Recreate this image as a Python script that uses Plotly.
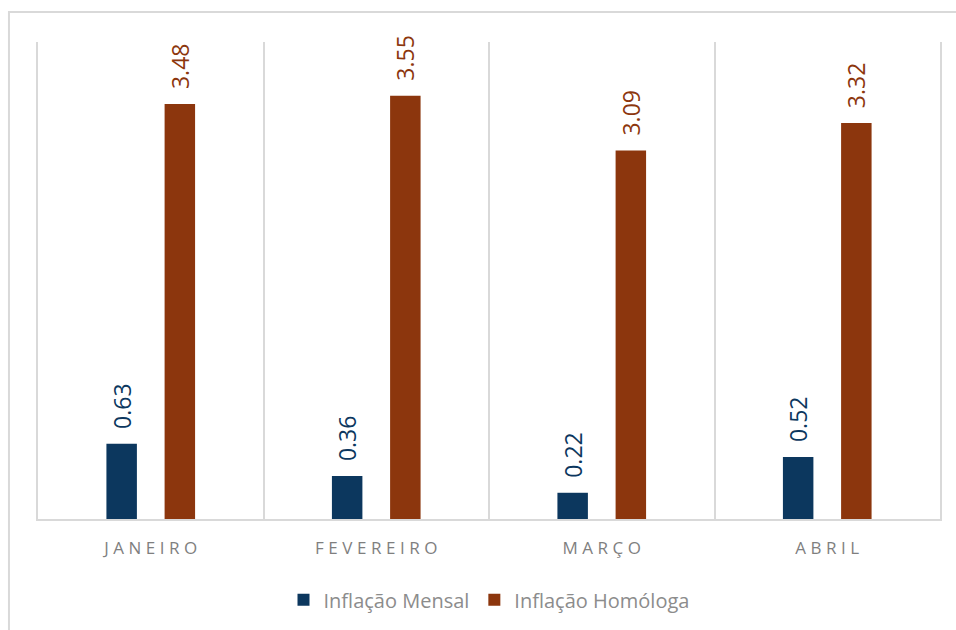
import plotly.graph_objects as go

months = ["JANEIRO", "FEVEREIRO", "MARÇO", "ABRIL"]
inflacao_mensal = [0.63, 0.36, 0.22, 0.52]
inflacao_homologa = [3.48, 3.55, 3.09, 3.32]

BLUE = "#0c375e"
ORANGE = "#8c360d"
GRID = "#d9d9d9"

def spaced(s):
    return "\u2009\u200a".join(list(s))

tick_text = [spaced(m) for m in months]

fig = go.Figure()
fig.add_trace(go.Bar(
    name="Inflação Mensal", x=months, y=inflacao_mensal,
    marker=dict(color=BLUE, line=dict(width=0)),
    texttemplate="\u00a0\u00a0%{y:.2f}", textposition="outside", textangle=-90,
    textfont=dict(family="Open Sans", size=23, color=BLUE),
    cliponaxis=False,
))
fig.add_trace(go.Bar(
    name="Inflação Homóloga", x=months, y=inflacao_homologa,
    marker=dict(color=ORANGE, line=dict(width=0)),
    texttemplate="\u00a0\u00a0%{y:.2f}", textposition="outside", textangle=-90,
    textfont=dict(family="Open Sans", size=23, color=ORANGE),
    cliponaxis=False,
))

fig.update_layout(
    width=956, height=630,
    margin=dict(l=38, r=16, t=42, b=110),
    paper_bgcolor="white", plot_bgcolor="white",
    barmode="group", bargap=0.484, bargroupgap=0.476,
    font=dict(family="Open Sans", color="#808080"),
    legend=dict(orientation="h", x=0.5, xanchor="center", y=-0.167, yanchor="middle",
                font=dict(size=20, color="#8c8c8c"), itemwidth=30, traceorder="normal"),
    showlegend=True,
    shapes=[dict(type="rect", xref="paper", yref="paper",
                 x0=-0.0322, x1=1.05, y0=-0.3, y1=1.0628,
                 line=dict(color=GRID, width=2), fillcolor="rgba(0,0,0,0)", layer="below")],
)
fig.update_xaxes(
    type="category", tickmode="array", tickvals=months, ticktext=tick_text,
    tickson="boundaries", showgrid=True, gridcolor=GRID, gridwidth=2,
    showline=True, linecolor=GRID, linewidth=2, ticks="",
    tickfont=dict(size=17, color="#7f7f7f"), ticklabelstandoff=13,
    range=[-0.5, 3.5], fixedrange=True,
)
fig.update_yaxes(
    range=[0, 4], showgrid=False, zeroline=False, showticklabels=False,
    showline=True, mirror=True, linecolor=GRID, linewidth=2, ticks="",
)
fig.update_traces(constraintext="none")

fig.write_html("out.html")
